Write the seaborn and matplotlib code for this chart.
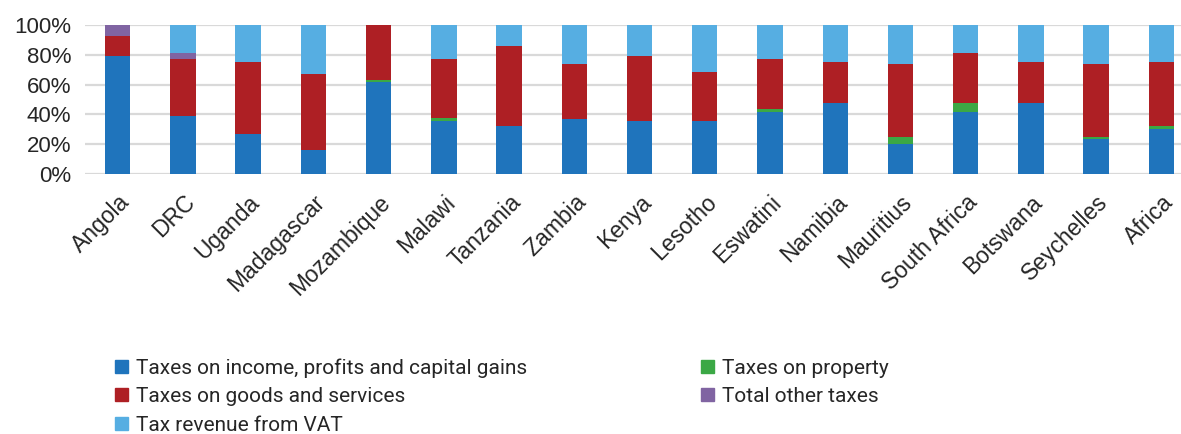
import pandas as pd
import matplotlib
matplotlib.use('Agg')
import matplotlib.pyplot as plt
import matplotlib.patches as mpatches
import seaborn as sns

# Data (share of total tax revenue, %)
countries = ['Angola', 'DRC', 'Uganda', 'Madagascar', 'Mozambique', 'Malawi', 'Tanzania',
             'Zambia', 'Kenya', 'Lesotho', 'Eswatini', 'Namibia', 'Mauritius',
             'South Africa', 'Botswana', 'Seychelles', 'Africa']
income = [79, 39, 27, 16, 62, 35.5, 32, 37, 35.5, 35.5, 42, 47.5, 20, 42, 47.5, 23.5, 30]
property_tax = [0, 0, 0, 0, 1.5, 2, 0.5, 0, 0.3, 0, 2, 0, 5, 5.5, 0, 1.5, 2]
goods = [14, 38, 48.5, 51, 36.5, 39.5, 53.5, 37, 43.5, 33, 33, 28, 49, 33.5, 28, 49, 43.5]
other = [7, 4, 0, 0, 0, 0, 0, 0, 0, 0, 0, 0, 0, 0, 0, 0, 0]
vat = [0, 19, 24.5, 33, 0, 23, 14, 26, 20.7, 31.5, 23, 24.5, 26, 19, 24.5, 26, 24.5]

layers = [
    ('Taxes on income, profits and capital gains', income, '#1F74BC'),
    ('Taxes on property', property_tax, '#3BA845'),
    ('Taxes on goods and services', goods, '#AE1F24'),
    ('Total other taxes', other, '#8064A2'),
    ('Tax revenue from VAT', vat, '#56AEE2'),
]

df = pd.DataFrame({name: vals for name, vals, _ in layers}, index=countries)
cum = df.cumsum(axis=1)

sns.set_style('white')
plt.rcParams['font.family'] = ['Roboto', 'DejaVu Sans']

fig = plt.figure(figsize=(11.81, 4.34), dpi=100)
ax = fig.add_axes([85 / 1181, 0.599, 1 - 85 / 1181, 0.343])

# stacked bars: draw cumulative totals from the top layer down
for name, _, color in reversed(layers):
    sns.barplot(x=countries, y=cum[name].values, color=color, saturation=1,
                width=0.39, linewidth=0, ax=ax, zorder=3)

ax.set_ylim(0, 100)
ax.set_xlim(-0.5, 16.3)
ax.set_yticks(range(0, 101, 20))
ax.set_yticklabels([f'{v}%' for v in range(0, 101, 20)], fontsize=16,
                   family=['Liberation Sans'])
ax.yaxis.grid(True, color='#D9D9D9', linewidth=1.6, zorder=0)
ax.set_axisbelow(True)
for s in ax.spines.values():
    s.set_visible(False)
ax.tick_params(axis='y', length=0, pad=10)
ax.tick_params(axis='x', length=0, pad=12)
ax.set_xticks(range(len(countries)))
ax.set_xticklabels(countries, rotation=45, ha='right', va='top', rotation_mode='anchor',
                   fontsize=16.5, family=['Liberation Sans'])
ax.set_xlabel('')
ax.set_ylabel('')

order = [0, 2, 4, 1, 3]
handles = [mpatches.Patch(color=layers[i][2], label=layers[i][0]) for i in order]
fig.legend(handles=handles, loc='upper left', bbox_to_anchor=(107 / 1181, 1 - 350 / 434),
           ncol=2, frameon=False, fontsize=15, handlelength=0.6, handleheight=0.6,
           handletextpad=0.4, columnspacing=8.35, labelspacing=0.45, borderaxespad=0)

plt.savefig('out.png', dpi=100)
plt.close()
